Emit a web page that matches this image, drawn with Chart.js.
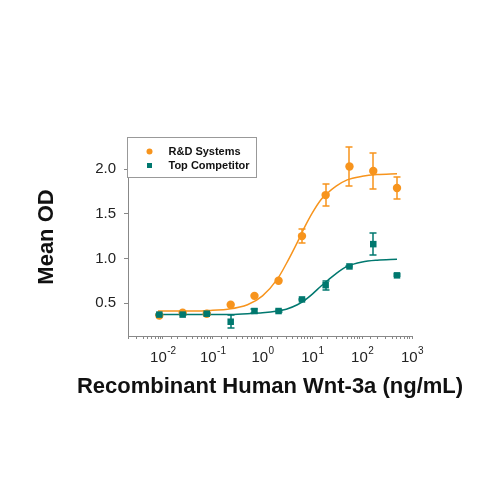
<!DOCTYPE html>
<html>
<head>
<meta charset="utf-8">
<script src="https://cdn.jsdelivr.net/npm/chart.js@4.4.1/dist/chart.umd.min.js"></script>
<style>
  html, body { margin: 0; padding: 0; background: #fff; }
</style>
</head>
<body>
<canvas id="odChart" width="500" height="500"></canvas>
<script>
// concentrations (ng/mL), 3-fold dilutions
const conc = [0.0085, 0.025, 0.076, 0.23, 0.69, 2.1, 6.2, 18.5, 55.6, 167, 500];
const rdValues = [0.36, 0.39, 0.38, 0.48, 0.58, 0.75, 1.25, 1.71, 2.03, 1.98, 1.79];
const rdErrors = [0, 0, 0, 0, 0, 0, 0.08, 0.12, 0.22, 0.20, 0.12];
const compValues = [0.37, 0.37, 0.38, 0.29, 0.41, 0.41, 0.54, 0.70, 0.91, 1.16, 0.81];
const compErrors = [0.01, 0.01, 0.01, 0.07, 0.02, 0.01, 0.01, 0.05, 0.01, 0.12, 0.01];

// fitted curves
const fitConc = [0.008, 0.02, 0.05, 0.1, 0.2, 0.5, 1, 2, 3, 5, 7, 10, 15, 20, 30, 50, 100, 200, 500];
const rdFit = [0.41, 0.41, 0.41, 0.42, 0.43, 0.48, 0.58, 0.77, 0.94, 1.18, 1.35, 1.51, 1.66, 1.73, 1.81, 1.88, 1.92, 1.94, 1.95];
const compFit = [0.37, 0.37, 0.37, 0.37, 0.37, 0.38, 0.39, 0.41, 0.43, 0.48, 0.53, 0.60, 0.69, 0.75, 0.83, 0.91, 0.96, 0.98, 0.99];

const decades = [0.01, 0.1, 1, 10, 100, 1000];
const exponents = ["-2", "-1", "0", "1", "2", "3"];
const yTicks = [0.5, 1.0, 1.5, 2.0];

const seriesNames = ["R&D Systems", "Top Competitor"];
const xTitle = "Recombinant Human Wnt-3a (ng/mL)";
const orange = "#f7941d";
const teal = "#00786f";
const fontFamily = "'Liberation Sans', Arial, sans-serif";

const pts = (xs, ys) => xs.map((v, i) => ({ x: v, y: ys[i] }));

// error bars drawn from the scales
const errorBars = {
  id: "errorBars",
  afterDatasetsDraw(chart) {
    const { ctx, scales: { x, y } } = chart;
    chart.data.datasets.forEach(ds => {
      if (!ds.errors) return;
      ctx.save();
      ctx.strokeStyle = ds.borderColor;
      ctx.lineWidth = 1.5;
      ds.data.forEach((p, j) => {
        const e = ds.errors[j];
        if (!e) return;
        const px = Math.round(x.getPixelForValue(p.x));
        const top = Math.round(y.getPixelForValue(p.y + e));
        const bot = Math.round(y.getPixelForValue(p.y - e));
        ctx.beginPath();
        ctx.moveTo(px, top); ctx.lineTo(px, bot);
        ctx.moveTo(px - 3.5, top); ctx.lineTo(px + 3.5, top);
        ctx.moveTo(px - 3.5, bot); ctx.lineTo(px + 3.5, bot);
        ctx.stroke();
      });
      ctx.restore();
    });
  }
};

// 10^n labels with raised exponent, and the x title centred under the plot
const xAxisText = {
  id: "xAxisText",
  afterDraw(chart) {
    const { ctx, chartArea, scales: { x } } = chart;
    ctx.save();
    ctx.fillStyle = "#222";
    ctx.textAlign = "left";
    decades.forEach((d, i) => {
      const px = x.getPixelForValue(d);
      ctx.font = "15px " + fontFamily;
      const wBase = ctx.measureText("10").width;
      ctx.font = "10px " + fontFamily;
      const wExp = ctx.measureText(exponents[i]).width;
      const left = px - (wBase + wExp) / 2;
      ctx.font = "15px " + fontFamily;
      ctx.textBaseline = "middle";
      ctx.fillText("10", left, x.top + 21.5);
      ctx.font = "10px " + fontFamily;
      ctx.textBaseline = "alphabetic";
      ctx.fillText(exponents[i], left + wBase + 0.5, x.top + 17.5);
    });
    ctx.fillStyle = "#111";
    ctx.font = "bold 22px " + fontFamily;
    ctx.textAlign = "center";
    ctx.textBaseline = "middle";
    ctx.fillText(xTitle, (chartArea.left + chartArea.right) / 2, x.top + 51);
    ctx.restore();
  }
};

// boxed legend inside the plot
const boxLegend = {
  id: "boxLegend",
  afterDraw(chart) {
    const { ctx, chartArea } = chart;
    const left = chartArea.left - 0.5, top = chartArea.top - 0.5;
    ctx.save();
    ctx.fillStyle = "#fff";
    ctx.strokeStyle = "#999";
    ctx.lineWidth = 1;
    ctx.fillRect(left, top, 129, 40);
    ctx.strokeRect(left, top, 129, 40);
    ctx.font = "bold 11px " + fontFamily;
    ctx.textBaseline = "middle";
    ctx.textAlign = "left";
    const rows = [top + 14, top + 28];
    ctx.fillStyle = orange;
    ctx.beginPath();
    ctx.arc(left + 22, rows[0], 3, 0, Math.PI * 2);
    ctx.fill();
    ctx.fillStyle = teal;
    ctx.fillRect(left + 19.5, rows[1] - 2.5, 5, 5);
    ctx.fillStyle = "#111";
    ctx.fillText(seriesNames[0], left + 41, rows[0]);
    ctx.fillText(seriesNames[1], left + 41, rows[1]);
    ctx.restore();
  }
};

new Chart(document.getElementById("odChart"), {
  type: "scatter",
  data: {
    datasets: [
      {
        label: seriesNames[0] + " fit",
        data: pts(fitConc, rdFit),
        showLine: true,
        borderColor: orange,
        borderWidth: 1.5,
        pointRadius: 0,
        cubicInterpolationMode: "monotone",
        order: 4
      },
      {
        label: seriesNames[1] + " fit",
        data: pts(fitConc, compFit),
        showLine: true,
        borderColor: teal,
        borderWidth: 1.5,
        pointRadius: 0,
        cubicInterpolationMode: "monotone",
        order: 3
      },
      {
        label: seriesNames[0],
        data: pts(conc, rdValues),
        errors: rdErrors,
        borderColor: orange,
        backgroundColor: orange,
        pointStyle: "circle",
        pointRadius: 4.2,
        borderWidth: 0,
        order: 2
      },
      {
        label: seriesNames[1],
        data: pts(conc, compValues),
        errors: compErrors,
        borderColor: teal,
        backgroundColor: teal,
        pointStyle: "rect",
        pointRadius: 4.6,
        borderWidth: 0,
        order: 1
      }
    ]
  },
  options: {
    responsive: false,
    animation: false,
    devicePixelRatio: 1,
    layout: { padding: { left: 0, right: 88, top: 138, bottom: 99.8 } },
    plugins: {
      legend: { display: false },
      tooltip: { enabled: false }
    },
    scales: {
      x: {
        type: "logarithmic",
        min: 0.002,
        max: 1000,
        afterFit(s) { s.height = 64.2; },
        border: { color: "#888", width: 1 },
        grid: { drawOnChartArea: false, color: "#888", tickLength: 3 },
        ticks: { autoSkip: false, maxRotation: 0, callback: () => "" }
      },
      y: {
        min: 0.13,
        max: 2.35,
        afterFit(s) { s.width = 128; },
        afterBuildTicks(s) { s.ticks = yTicks.map(v => ({ value: v })); },
        border: { color: "#888", width: 1 },
        grid: { drawOnChartArea: false, color: "#888", tickLength: 4 },
        ticks: {
          padding: 8,
          color: "#222",
          font: { family: fontFamily, size: 15 },
          callback: v => v.toFixed(1)
        },
        title: {
          display: true,
          text: "Mean OD",
          color: "#111",
          font: { family: fontFamily, size: 22, weight: "bold" },
          padding: { top: 33.8, bottom: 0 }
        }
      }
    }
  },
  plugins: [errorBars, xAxisText, boxLegend]
});
</script>
</body>
</html>
